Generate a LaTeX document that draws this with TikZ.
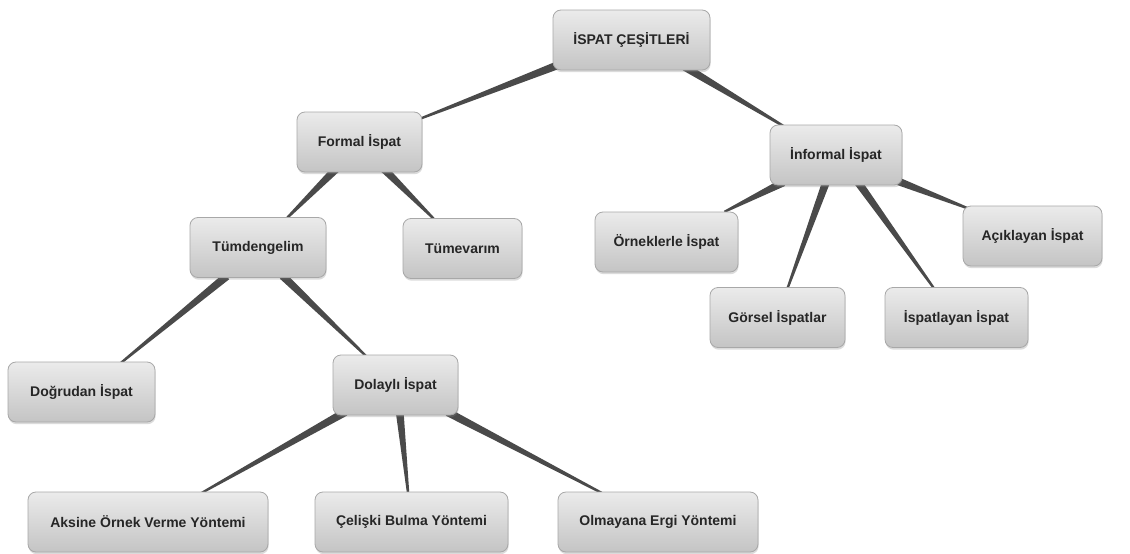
\documentclass[tikz,border=0pt]{standalone}
\usepackage{fontspec}
\setmainfont{Liberation Sans}
\usetikzlibrary{calc,shadows,backgrounds}
\definecolor{connc}{HTML}{4A4A4A}
\definecolor{boxborder}{HTML}{A8A8A8}
\definecolor{boxtop}{HTML}{EBEBEB}
\definecolor{boxbot}{HTML}{C4C4C4}
\tikzset{
  box/.style={draw=boxborder, line width=0.8pt, rounded corners=8pt,
    top color=boxtop, bottom color=boxbot, minimum height=60pt, inner sep=0pt,
    font=\fontsize{14}{16}\selectfont\bfseries, text=black!85,
    drop shadow={shadow xshift=0.6pt, shadow yshift=-2.2pt, opacity=0.28}},
  connfill/.style={fill=connc},
}
\newcommand\wedgeconn[2]{%
  \path ($(#1)!-6pt!(#2)$) coordinate (cA) ($(#2)!-4pt!(#1)$) coordinate (cB);
  \fill[connfill] ($(cA)!4pt!90:(cB)$) -- ($(cB)!1.1pt!-90:(cA)$)
    -- ($(cB)!1.1pt!90:(cA)$) -- ($(cA)!4pt!-90:(cB)$) -- cycle;}
\begin{document}
\begin{tikzpicture}[x=1pt,y=-1pt]
\useasboundingbox (0,0) rectangle (1130,554);
% nodes
\node[box, minimum width=157pt] (root)     at (631.5,40)  {İSPAT ÇEŞİTLERİ};
\node[box, minimum width=125pt] (formal)   at (359.5,142) {Formal İspat};
\node[box, minimum width=136pt] (tumd)     at (258,247.5) {Tümdengelim};
\node[box, minimum width=119pt] (tumv)     at (462.5,248.5) {Tümevarım};
\node[box, minimum width=132pt] (informal) at (836,155)   {İnformal İspat};
\node[box, minimum width=143pt] (ornek)    at (666.5,242) {Örneklerle İspat};
\node[box, minimum width=139pt] (acik)     at (1032.5,236) {Açıklayan İspat};
\node[box, minimum width=135pt] (gorsel)   at (777.5,317.5) {Görsel İspatlar};
\node[box, minimum width=143pt] (ispatl)   at (956.5,317.5) {İspatlayan İspat};
\node[box, minimum width=147pt] (dogru)    at (81.5,392)  {Doğrudan İspat};
\node[box, minimum width=125pt] (dolayli)  at (395.5,385) {Dolaylı İspat};
\node[box, minimum width=240pt] (aksine)   at (148,522)   {Aksine Örnek Verme Yöntemi};
\node[box, minimum width=193pt] (celiski)  at (411.5,522) {Çelişki Bulma Yöntemi};
\node[box, minimum width=200pt] (olmayana) at (658,522)   {Olmayana Ergi Yöntemi};
% connector end points
\coordinate (r1) at ($(root.center)+(-78.5,27)$);
\coordinate (f0) at ($(formal.center)+(62.5,-24)$);
\coordinate (r2) at ($(root.center)+(58.5,30)$);
\coordinate (i0) at ($(informal.center)+(-51,-28)$);
\coordinate (f1) at ($(formal.center)+(-27.5,31)$);
\coordinate (td0) at ($(tumd.center)+(30,-30.5)$);
\coordinate (f2) at ($(formal.center)+(28.5,31)$);
\coordinate (tv0) at ($(tumv.center)+(-30.5,-31.5)$);
\coordinate (td1) at ($(tumd.center)+(-36,32.5)$);
\coordinate (dg0) at ($(dogru.center)+(40.5,-30)$);
\coordinate (td2) at ($(tumd.center)+(29,32.5)$);
\coordinate (dl0) at ($(dolayli.center)+(-30.5,-30)$);
\coordinate (dl1) at ($(dolayli.center)+(-55.5,30)$);
\coordinate (ak0) at ($(aksine.center)+(57,-31)$);
\coordinate (dl2) at ($(dolayli.center)+(4.5,30)$);
\coordinate (ce0) at ($(celiski.center)+(-3.5,-30)$);
\coordinate (dl3) at ($(dolayli.center)+(57.5,30)$);
\coordinate (ol0) at ($(olmayana.center)+(-58,-30)$);
\coordinate (i1) at ($(informal.center)+(-58,30)$);
\coordinate (or0) at ($(ornek.center)+(61.5,-32)$);
\coordinate (i2) at ($(informal.center)+(-11,30)$);
\coordinate (go0) at ($(gorsel.center)+(10.5,-30.5)$);
\coordinate (i3) at ($(informal.center)+(24,30)$);
\coordinate (is0) at ($(ispatl.center)+(-23.5,-30.5)$);
\coordinate (i4) at ($(informal.center)+(64,27)$);
\coordinate (ac0) at ($(acik.center)+(-65.5,-28)$);
\begin{scope}[on background layer]
\fill[white] (0,0) rectangle (1130,554);
\wedgeconn{r1}{f0}
\wedgeconn{r2}{i0}
\wedgeconn{f1}{td0}
\wedgeconn{f2}{tv0}
\wedgeconn{td1}{dg0}
\wedgeconn{td2}{dl0}
\wedgeconn{dl1}{ak0}
\wedgeconn{dl2}{ce0}
\wedgeconn{dl3}{ol0}
\wedgeconn{i1}{or0}
\wedgeconn{i2}{go0}
\wedgeconn{i3}{is0}
\wedgeconn{i4}{ac0}
\end{scope}
\end{tikzpicture}
\end{document}
